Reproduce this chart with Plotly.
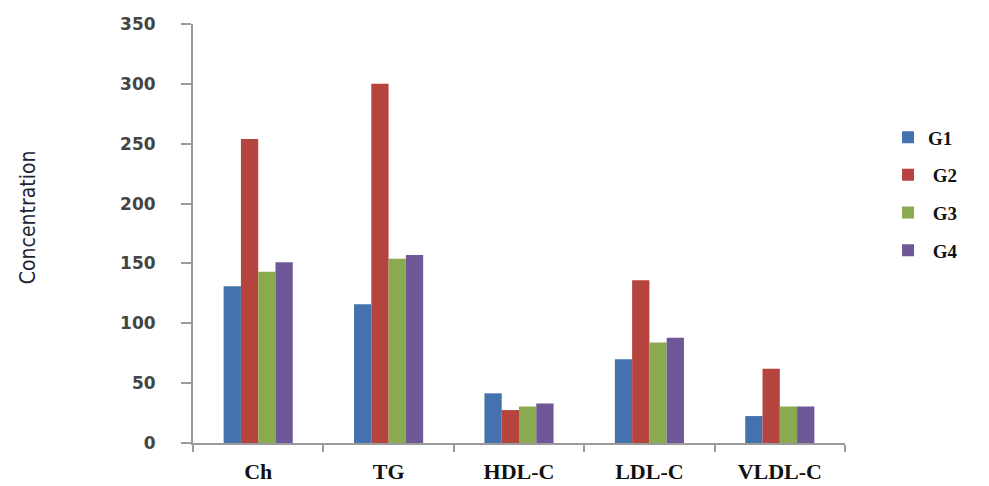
import plotly.graph_objects as go

categories = ["Ch", "TG", "HDL-C", "LDL-C", "VLDL-C"]
series_names = ["G1", "G2", "G3", "G4"]
g1 = [131, 116, 41.5, 70, 22.5]
g2 = [254, 300, 27.5, 136, 62]
g3 = [143, 154, 30.5, 84, 30.5]
g4 = [151, 157, 33, 88, 30.5]
y_ticks = [0, 50, 100, 150, 200, 250, 300, 350]

colors = ["#4472AE", "#B5443F", "#8AAA50", "#6F5897"]
values = [g1, g2, g3, g4]
legend_labels = ["G1", " G2", " G3", " G4"]

fig = go.Figure()
for i, (name, vals) in enumerate(zip(series_names, values)):
    fig.add_trace(go.Bar(
        x=categories, y=vals, name=legend_labels[i],
        marker=dict(color=colors[i], line=dict(width=0)),
        legendgroup=name,
    ))

fig.update_layout(
    width=989, height=486,
    paper_bgcolor="white", plot_bgcolor="white",
    margin=dict(l=185, r=152, t=16, b=51, autoexpand=False),
    barmode="group", bargap=0.47, bargroupgap=0,
    showlegend=True,
    legend=dict(
        x=1.066, y=0.775, xanchor="left", yanchor="top",
        font=dict(family="Liberation Serif", size=19, color="#111", weight="bold"),
        traceorder="grouped", tracegroupgap=10,
        itemwidth=30,
    ),
    xaxis=dict(
        type="category", showline=True, linecolor="#9a9a9a", linewidth=2,
        ticks="outside", tickson="boundaries", ticklen=7, tickcolor="#9a9a9a",
        tickwidth=2, ticklabelstandoff=8,
        tickfont=dict(family="Liberation Serif", size=22, color="#111", weight="bold"),
        showgrid=False, zeroline=False,
    ),
    yaxis=dict(
        range=[0, 350], tickvals=y_ticks, showline=True, linecolor="#9a9a9a",
        linewidth=2, ticks="outside", ticklen=10, tickcolor="#9a9a9a", tickwidth=2,
        ticklabelstandoff=22,
        tickfont=dict(family="DejaVu Sans", size=17, color="#444", weight="bold"),
        showgrid=False, zeroline=False,
    ),
    annotations=[dict(
        text="Concentration", xref="paper", yref="paper",
        x=-0.253, y=0.539, xanchor="center", yanchor="middle",
        textangle=-90, showarrow=False,
        font=dict(family="DejaVu Sans Condensed, Liberation Sans Narrow", size=21, color="#1b2436"),
    )],
)

fig.write_html("out.html")
